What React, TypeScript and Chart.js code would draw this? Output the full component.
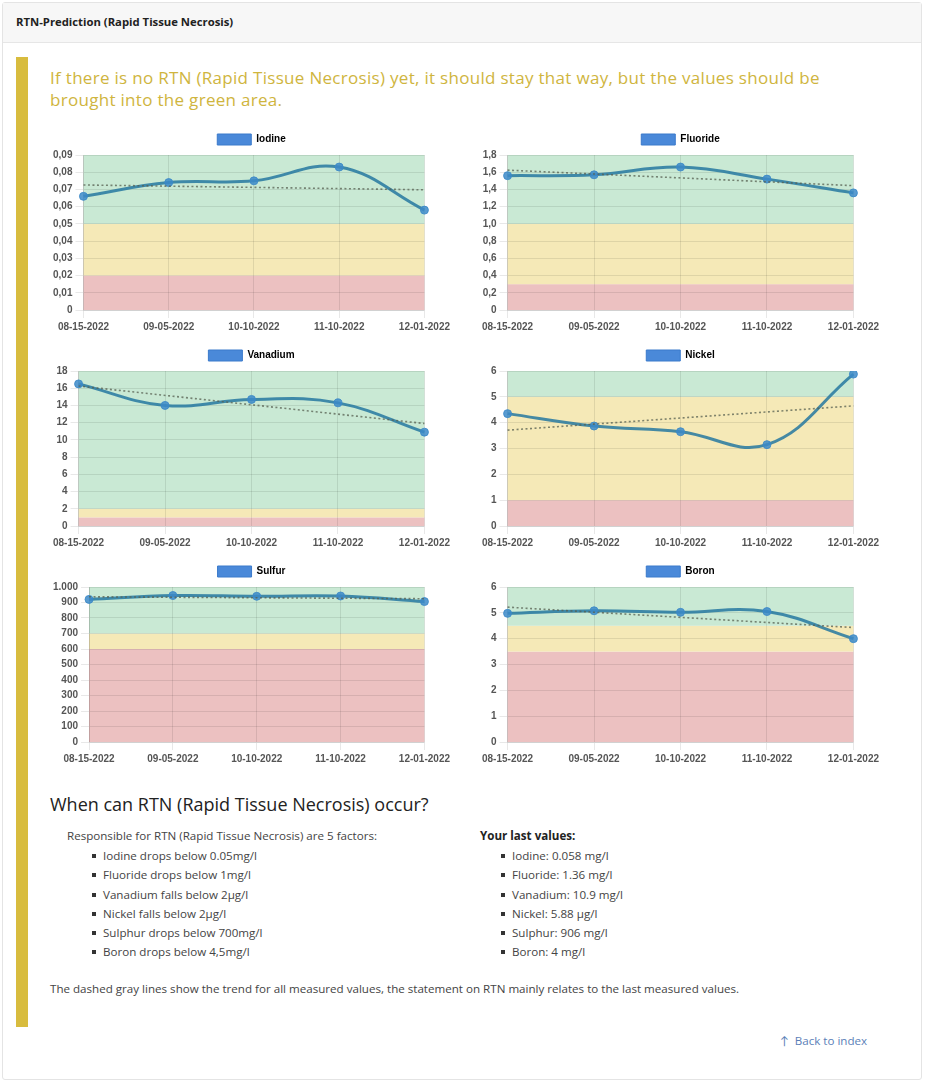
import React, { useEffect, useRef } from "react";
import { Chart, registerables } from "chart.js";

Chart.register(...registerables);

// ---------- data ----------
const dates = ["08-15-2022", "09-05-2022", "10-10-2022", "11-10-2022", "12-01-2022"];

const iodineValues = [0.066, 0.074, 0.075, 0.083, 0.058];
const iodineTrend = [0.0726, 0.0698];
const iodineZones = [0.02, 0.05]; // red top, yellow top
const iodineAxis = [0.09, 0.01]; // max, step

const fluorideValues = [1.56, 1.57, 1.66, 1.52, 1.36];
const fluorideTrend = [1.624, 1.444];
const fluorideZones = [0.3, 1.0];
const fluorideAxis = [1.8, 0.2];

const vanadiumValues = [16.5, 14.0, 14.7, 14.3, 10.9];
const vanadiumTrend = [16.26, 11.9];
const vanadiumZones = [1, 2];
const vanadiumAxis = [18, 2];

const nickelValues = [4.35, 3.87, 3.65, 3.15, 5.88];
const nickelTrend = [3.71, 4.65];
const nickelZones = [1, 5];
const nickelAxis = [6, 1];

const sulfurValues = [920, 945, 940, 942, 906];
const sulfurTrend = [936.8, 924.4];
const sulfurZones = [600, 700];
const sulfurAxis = [1000, 100];

const boronValues = [4.98, 5.08, 5.02, 5.05, 4.0];
const boronTrend = [5.22, 4.43];
const boronZones = [3.5, 4.5];
const boronAxis = [6, 1];

const factorItems = [
  "Iodine drops below 0.05mg/l",
  "Fluoride drops below 1mg/l",
  "Vanadium falls below 2µg/l",
  "Nickel falls below 2µg/l",
  "Sulphur drops below 700mg/l",
  "Boron drops below 4,5mg/l",
];
const lastValueItems = [
  "Iodine: 0.058 mg/l",
  "Fluoride: 1.36 mg/l",
  "Vanadium: 10.9 mg/l",
  "Nickel: 5.88 µg/l",
  "Sulphur: 906 mg/l",
  "Boron: 4 mg/l",
];

// ---------- chart ----------
const RED = "rgba(236,193,193,1)";
const YELLOW = "rgba(245,233,183,1)";
const GREEN = "rgba(201,233,212,1)";

const bandsPlugin = {
  id: "bands",
  beforeDraw(chart: any, _args: any, opts: any) {
    const { ctx, chartArea, scales } = chart;
    const y = scales.y;
    const zones: number[] = opts.zones;
    const max = y.max;
    const segs = [
      [0, zones[0], RED],
      [zones[0], zones[1], YELLOW],
      [zones[1], max, GREEN],
    ] as [number, number, string][];
    ctx.save();
    for (const [a, b, c] of segs) {
      const top = y.getPixelForValue(b);
      const bot = y.getPixelForValue(a);
      ctx.fillStyle = c;
      ctx.fillRect(chartArea.left, top, chartArea.right - chartArea.left, bot - top);
    }
    ctx.restore();
  },
};

type Props = {
  name: string;
  values: number[];
  trend: number[];
  zones: number[];
  axis: number[];
};

function RtnChart({ name, values, trend, zones, axis }: Props) {
  const ref = useRef<HTMLCanvasElement | null>(null);
  useEffect(() => {
    if (!ref.current) return;
    const chart = new Chart(ref.current, {
      type: "line",
      data: {
        labels: dates,
        datasets: [
          {
            label: name,
            data: values,
            borderColor: "rgba(38,120,160,0.85)",
            backgroundColor: "#4a89d9",
            pointBackgroundColor: "rgba(60,138,200,0.85)",
            pointBorderColor: "rgba(60,138,200,0.85)",
            pointBorderWidth: 1,
            pointRadius: 4,
            borderWidth: 3,
            tension: 0.4,
            fill: false,
            order: 1,
          },
          {
            label: "trend",
            data: [
              { x: dates[0], y: trend[0] },
              { x: dates[dates.length - 1], y: trend[1] },
            ] as any,
            borderColor: "rgba(85,95,80,0.75)",
            borderWidth: 1.6,
            borderDash: [2, 2.5],
            pointRadius: 0,
            fill: false,
            tension: 0,
            order: 0,
          },
        ],
      },
      options: {
        animation: false,
        responsive: true,
        maintainAspectRatio: false,
        locale: "de-DE",
        layout: { padding: 0 },
        plugins: {
          tooltip: { enabled: false },
          legend: {
            display: true,
            labels: {
              boxWidth: 34,
              boxHeight: 11,
              color: "#444",
              font: { size: 10, weight: "bold" },
              generateLabels: () => [
                {
                  text: name,
                  fillStyle: "#4a89d9",
                  strokeStyle: "#3b7acb",
                  lineWidth: 1,
                  hidden: false,
                  datasetIndex: 0,
                } as any,
              ],
            },
          },
          bands: { zones },
        } as any,
        scales: {
          x: {
            ticks: { color: "#555", font: { size: 10, weight: "bold" }, maxRotation: 0 },
            grid: { color: "rgba(0,0,0,0.09)" },
          },
          y: {
            min: 0,
            max: axis[0],
            ticks: { stepSize: axis[1], color: "#555", font: { size: 10, weight: "bold" } },
            grid: { color: "rgba(0,0,0,0.09)" },
          },
        },
      },
      plugins: [bandsPlugin],
    });
    return () => chart.destroy();
  }, [name, values, trend, zones, axis]);
  return <canvas ref={ref} />;
}

// ---------- page ----------
const BODY_FONT = "'Open Sans', Lato, sans-serif";

function Bullets({ items, left, top }: { items: string[]; left: number; top: number }) {
  return (
    <div style={{ position: "absolute", left, top }}>
      {items.map((t, i) => (
        <div
          key={i}
          style={{ position: "relative", height: 19.3, lineHeight: "19.3px", paddingLeft: 11, whiteSpace: "nowrap" }}
        >
          <span
            style={{ position: "absolute", left: 0, top: 8, width: 4, height: 4, background: "#333" }}
          />
          {t}
        </div>
      ))}
    </div>
  );
}

export default function App() {
  const charts: [Props, number, number][] = [
    [{ name: "Iodine", values: iodineValues, trend: iodineTrend, zones: iodineZones, axis: iodineAxis }, 50, 124],
    [{ name: "Fluoride", values: fluorideValues, trend: fluorideTrend, zones: fluorideZones, axis: fluorideAxis }, 479, 124],
    [{ name: "Vanadium", values: vanadiumValues, trend: vanadiumTrend, zones: vanadiumZones, axis: vanadiumAxis }, 50, 340],
    [{ name: "Nickel", values: nickelValues, trend: nickelTrend, zones: nickelZones, axis: nickelAxis }, 479, 340],
    [{ name: "Sulfur", values: sulfurValues, trend: sulfurTrend, zones: sulfurZones, axis: sulfurAxis }, 50, 556],
    [{ name: "Boron", values: boronValues, trend: boronTrend, zones: boronZones, axis: boronAxis }, 479, 556],
  ];
  Chart.defaults.font.family = "'Liberation Sans', Arial, sans-serif";
  return (
    <div
      style={{
        position: "absolute",
        left: 0,
        top: 0,
        width: 926,
        height: 1084,
        background: "#fff",
        fontFamily: BODY_FONT,
        overflow: "hidden",
      }}
    >
      <div
        style={{
          position: "absolute",
          left: 2,
          top: 2,
          width: 918,
          height: 1076,
          border: "1px solid #e4e4e4",
          borderRadius: 3,
        }}
      >
        <div
          style={{
            position: "absolute",
            left: 0,
            top: 0,
            right: 0,
            height: 39,
            background: "#f7f7f7",
            borderBottom: "1px solid #e6e6e6",
          }}
        >
          <div
            style={{
              position: "absolute",
              left: 13,
              top: 11,
              fontSize: 11.3,
              fontWeight: 700,
              color: "#222",
              whiteSpace: "nowrap",
            }}
          >
            RTN-Prediction (Rapid Tissue Necrosis)
          </div>
        </div>
      </div>

      <div style={{ position: "absolute", left: 16, top: 57, width: 12, height: 970, background: "#d8bc3e" }} />

      <div
        style={{
          position: "absolute",
          left: 50,
          top: 67,
          fontSize: 17,
          letterSpacing: 0.3,
          lineHeight: "22px",
          color: "#cfb53e",
          whiteSpace: "nowrap",
        }}
      >
        If there is no RTN (Rapid Tissue Necrosis) yet, it should stay that way, but the values should be
        <br />
        brought into the green area.
      </div>

      {charts.map(([p, x, y]) => (
        <div key={p.name} style={{ position: "absolute", left: x, top: y, width: 403, height: 212 }}>
          <RtnChart {...p} />
        </div>
      ))}

      <div
        style={{
          position: "absolute",
          left: 50,
          top: 792,
          fontSize: 18,
          color: "#222",
          whiteSpace: "nowrap",
        }}
      >
        When can RTN (Rapid Tissue Necrosis) occur?
      </div>

      <div
        style={{ position: "absolute", left: 67, top: 828, fontSize: 11.6, color: "#444", whiteSpace: "nowrap" }}
      >
        Responsible for RTN (Rapid Tissue Necrosis) are 5 factors:
      </div>
      <div style={{ fontSize: 11.6, color: "#444" }}>
        <Bullets items={factorItems} left={92} top={846} />
      </div>

      <div
        style={{
          position: "absolute",
          left: 480,
          top: 828,
          fontSize: 11.6,
          fontWeight: 700,
          color: "#222",
          whiteSpace: "nowrap",
        }}
      >
        Your last values:
      </div>
      <div style={{ fontSize: 11.6, color: "#444" }}>
        <Bullets items={lastValueItems} left={501} top={846} />
      </div>

      <div
        style={{ position: "absolute", left: 50, top: 981, fontSize: 11.6, color: "#444", whiteSpace: "nowrap" }}
      >
        The dashed gray lines show the trend for all measured values, the statement on RTN mainly relates to the last
        measured values.
      </div>

      <div
        style={{ position: "absolute", left: 780, top: 1033, fontSize: 11.6, color: "#5b7fb8", whiteSpace: "nowrap" }}
      >
        ↑&nbsp; Back to index
      </div>
    </div>
  );
}
